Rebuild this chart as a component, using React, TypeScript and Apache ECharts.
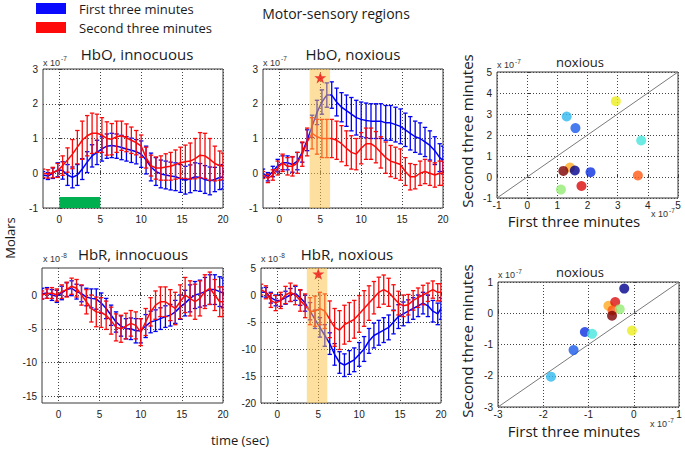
import React, { useEffect, useRef } from 'react';
import * as echarts from 'echarts';

// ---------- data ----------
const times = [-2, -1.4, -0.8, -0.2, 0.4, 1, 1.6, 2.2, 2.8, 3.4, 4, 4.6, 5.2, 5.8, 6.4, 7, 7.6, 8.2, 8.8, 9.4, 10, 10.6, 11.2, 11.8, 12.4, 13, 13.6, 14.2, 14.8, 15.4, 16, 16.6, 17.2, 17.8, 18.4, 19, 19.6, 20];

// HbO, innocuous (x 1e-7)
const hboInnFirst = [-0.05, -0.08, 0.0, 0.1, 0.08, -0.05, -0.12, -0.05, 0.12, 0.32, 0.5, 0.6, 0.7, 0.78, 0.8, 0.78, 0.74, 0.7, 0.66, 0.62, 0.55, 0.38, 0.18, 0.05, -0.02, -0.05, -0.08, -0.1, -0.15, -0.2, -0.16, -0.1, -0.12, -0.18, -0.22, -0.18, -0.12, -0.1];
const hboInnFirstErr = [0.1, 0.1, 0.15, 0.2, 0.25, 0.3, 0.3, 0.3, 0.3, 0.3, 0.32, 0.35, 0.35, 0.35, 0.35, 0.35, 0.35, 0.35, 0.35, 0.35, 0.38, 0.4, 0.4, 0.4, 0.4, 0.4, 0.4, 0.4, 0.4, 0.4, 0.4, 0.4, 0.4, 0.4, 0.4, 0.35, 0.35, 0.35];
const hboInnSecond = [0.0, -0.02, 0.02, 0.08, 0.22, 0.38, 0.55, 0.75, 0.95, 1.08, 1.15, 1.15, 1.1, 1.0, 0.98, 1.05, 1.08, 1.02, 0.95, 0.88, 0.78, 0.45, 0.22, 0.15, 0.15, 0.18, 0.2, 0.25, 0.3, 0.33, 0.35, 0.42, 0.52, 0.5, 0.4, 0.28, 0.22, 0.2];
const hboInnSecondErr = [0.12, 0.12, 0.15, 0.2, 0.28, 0.35, 0.42, 0.48, 0.55, 0.58, 0.58, 0.55, 0.5, 0.48, 0.45, 0.45, 0.42, 0.4, 0.38, 0.35, 0.32, 0.3, 0.3, 0.32, 0.35, 0.38, 0.4, 0.42, 0.45, 0.48, 0.52, 0.58, 0.65, 0.65, 0.6, 0.5, 0.42, 0.38];

// HbO, noxious (x 1e-7)
const hboNoxFirst = [0.0, -0.1, 0.05, 0.22, 0.3, 0.3, 0.25, 0.35, 0.6, 0.95, 1.35, 1.75, 2.05, 2.25, 2.25, 2.05, 1.9, 1.8, 1.7, 1.6, 1.55, 1.52, 1.5, 1.5, 1.5, 1.45, 1.45, 1.4, 1.35, 1.25, 1.15, 1.05, 1.0, 0.9, 0.8, 0.65, 0.45, 0.38];
const hboNoxFirstErr = [0.12, 0.12, 0.15, 0.18, 0.2, 0.2, 0.22, 0.25, 0.28, 0.3, 0.32, 0.35, 0.35, 0.35, 0.38, 0.4, 0.42, 0.45, 0.48, 0.5, 0.5, 0.5, 0.5, 0.5, 0.5, 0.5, 0.5, 0.5, 0.5, 0.48, 0.48, 0.45, 0.45, 0.42, 0.42, 0.4, 0.4, 0.4];
const hboNoxSecond = [-0.05, -0.15, -0.05, 0.15, 0.3, 0.2, 0.2, 0.3, 0.55, 0.9, 1.15, 1.05, 1.0, 1.0, 1.0, 0.95, 0.85, 0.72, 0.6, 0.55, 0.72, 0.85, 0.85, 0.75, 0.6, 0.45, 0.35, 0.3, 0.25, 0.05, -0.1, -0.1, 0.0, 0.05, 0.0, -0.05, 0.0, 0.0];
const hboNoxSecondErr = [0.1, 0.12, 0.15, 0.2, 0.25, 0.25, 0.28, 0.3, 0.35, 0.4, 0.45, 0.5, 0.55, 0.55, 0.55, 0.55, 0.52, 0.5, 0.48, 0.45, 0.45, 0.45, 0.45, 0.45, 0.45, 0.45, 0.45, 0.45, 0.45, 0.4, 0.38, 0.35, 0.35, 0.35, 0.35, 0.35, 0.35, 0.35];

// HbR, innocuous (x 1e-8)
const hbrInnFirst = [0.2, 0.3, 0.0, -0.2, 0.3, 0.8, 1.0, 0.5, 0.2, -0.3, -0.5, -0.6, -1.2, -2.0, -3.0, -4.0, -4.6, -5.0, -5.0, -5.3, -5.3, -4.6, -4.0, -3.8, -3.5, -3.2, -3.0, -2.5, -1.8, -1.2, -0.5, 0.0, 0.2, 0.5, 0.8, 0.8, 0.5, 0.3];
const hbrInnFirstErr = [0.8, 0.8, 0.8, 0.9, 1.0, 1.0, 1.1, 1.1, 1.2, 1.3, 1.4, 1.5, 1.5, 1.5, 1.5, 1.5, 1.5, 1.5, 1.6, 1.8, 1.8, 1.7, 1.6, 1.6, 1.6, 1.6, 1.6, 1.7, 1.8, 1.9, 2.0, 2.0, 2.0, 2.1, 2.2, 2.2, 2.2, 2.2];
const hbrInnSecond = [0.0, 0.2, 0.3, 0.0, 0.5, 0.8, 1.3, 1.0, 0.0, -1.0, -2.0, -2.5, -2.6, -3.0, -3.8, -4.8, -5.0, -4.6, -4.2, -4.5, -5.5, -4.0, -2.5, -1.5, -1.0, -1.0, -1.5, -2.0, -1.0, 0.0, -0.5, -1.0, -0.5, 0.5, 1.0, 0.0, -1.0, -1.0];
const hbrInnSecondErr = [0.6, 0.7, 0.8, 0.9, 1.0, 1.1, 1.2, 1.3, 1.5, 1.8, 2.0, 2.2, 2.2, 2.1, 2.0, 2.0, 2.0, 1.9, 1.9, 2.0, 2.0, 2.0, 2.1, 2.1, 2.2, 2.2, 2.3, 2.4, 2.5, 2.6, 2.6, 2.6, 2.6, 2.5, 2.4, 2.3, 2.2, 2.2];

// HbR, noxious (x 1e-8)
const hbrNoxFirst = [0.5, 0.5, -0.5, -1.0, -1.0, -0.5, 0.0, 0.3, -0.5, -1.5, -3.0, -4.5, -6.0, -7.5, -9.0, -11.0, -12.5, -13.0, -12.5, -12.0, -11.0, -10.0, -8.5, -7.5, -7.0, -6.5, -6.0, -5.0, -4.0, -3.5, -3.0, -2.5, -2.0, -1.5, -2.0, -3.0, -3.5, -2.5];
const hbrNoxFirstErr = [0.8, 0.9, 1.0, 1.0, 1.1, 1.2, 1.2, 1.3, 1.4, 1.5, 1.6, 1.7, 1.8, 2.0, 2.0, 2.0, 2.0, 2.1, 2.2, 2.2, 2.2, 2.3, 2.3, 2.3, 2.3, 2.3, 2.3, 2.2, 2.2, 2.2, 2.1, 2.0, 2.0, 2.0, 2.0, 2.0, 2.0, 2.0];
const hbrNoxSecond = [1.0, 0.5, -1.0, -1.5, -1.0, 0.0, 0.5, 0.0, -1.0, -2.0, -3.0, -3.0, -2.5, -3.0, -4.5, -6.0, -6.5, -5.5, -5.0, -4.5, -3.5, -2.5, -1.5, -0.5, 0.5, 1.0, 0.5, -0.5, -1.5, -2.0, -1.8, -1.0, -0.5, 0.0, 0.5, 1.0, 0.5, 0.5];
const hbrNoxSecondErr = [1.0, 1.2, 1.3, 1.4, 1.5, 1.6, 1.7, 1.8, 2.0, 2.2, 2.5, 2.8, 3.0, 3.2, 3.4, 3.5, 3.6, 3.6, 3.6, 3.5, 3.4, 3.3, 3.2, 3.0, 2.8, 2.7, 2.6, 2.4, 2.2, 2.0, 1.9, 1.8, 1.8, 1.8, 1.7, 1.6, 1.6, 1.6];

// stimulus interval / highlighted windows / star markers
const stimInterval = [0, 5];
const hboNoxWindow = [3.7, 6.2];
const hbrNoxWindow = [3.6, 6.1];
const hboStar = [5, 2.75];
const hbrStar = [5, 3.9];

// scatter: HbO noxious (x 1e-7)
const hboScatterFirst = [1.31, 1.6, 2.94, 3.78, 3.67, 1.42, 1.2, 1.58, 2.1, 1.8, 1.12];
const hboScatterSecond = [2.88, 2.33, 3.61, 1.74, 0.07, 0.45, 0.29, 0.31, 0.23, -0.43, -0.6];
const hboScatterColors = ['#2fb9ef', '#1a5ae8', '#ecec1e', '#46e6dc', '#ff5a14', '#ffaa22', '#7d0000', '#00008c', '#0a2fe0', '#dc0a0a', '#96ec74'];
const hboDiag = [[-1, -1], [5, 5]];

// scatter: HbR noxious (x 1e-7)
const hbrScatterFirst = [-0.21, -0.56, -0.41, -0.47, -0.31, -0.48, -0.04, -1.08, -0.92, -1.33, -1.83];
const hbrScatterSecond = [0.79, 0.24, 0.36, 0.09, 0.13, -0.08, -0.555, -0.6, -0.66, -1.18, -2.03];
const hbrScatterColors = ['#00008c', '#ffaa22', '#dc1010', '#ff5a14', '#96ec74', '#7d0000', '#ecec1e', '#0a2fe0', '#46e6dc', '#1a5ae8', '#2fb9ef'];
const hbrDiag = [[-3, -3], [1, 1]];

const timeTicks = [0, 5, 10, 15, 20];
const hbrInnTicks = [-15, -10, -5, 0];

// ---------- styles ----------
const BLUE = '#0000f2';
const RED = '#fa0a0a';
const FRAME = '#3a3a3a';
const SANS = '"Open Sans", "Noto Sans", sans-serif';
const TICKFONT = '"Liberation Sans", Arial, sans-serif';

const STAR = 'path://M0,-10 L2.35,-3.24 L9.51,-3.09 L3.8,1.24 L5.88,8.09 L0,4 L-5.88,8.09 L-3.8,1.24 L-9.51,-3.09 L-2.35,-3.24 Z';

function errData(mean: number[], err: number[]) {
  return times.map((t, i) => [t, mean[i] - err[i], mean[i] + err[i]]);
}
function lineData(mean: number[]) {
  return times.map((t, i) => [t, mean[i]]);
}

function errSeries(gi: number, mean: number[], err: number[], color: string, z: number) {
  return {
    type: 'custom',
    xAxisIndex: gi,
    yAxisIndex: gi,
    z,
    silent: true,
    clip: true,
    data: errData(mean, err),
    renderItem: (params: any, api: any) => {
      const x = api.value(0);
      const lo = api.coord([x, api.value(1)]);
      const hi = api.coord([x, api.value(2)]);
      const w = 2.2;
      const st = { stroke: color, lineWidth: 1.3 };
      return {
        type: 'group',
        children: [
          { type: 'line', shape: { x1: lo[0], y1: lo[1], x2: hi[0], y2: hi[1] }, style: st },
          { type: 'line', shape: { x1: lo[0] - w, y1: lo[1], x2: lo[0] + w, y2: lo[1] }, style: st },
          { type: 'line', shape: { x1: hi[0] - w, y1: hi[1], x2: hi[0] + w, y2: hi[1] }, style: st },
        ],
      };
    },
  };
}

function meanSeries(gi: number, mean: number[], color: string, z: number) {
  return {
    type: 'line',
    xAxisIndex: gi,
    yAxisIndex: gi,
    z,
    silent: true,
    showSymbol: false,
    smooth: false,
    data: lineData(mean),
    lineStyle: { color, width: 1.5 },
  };
}

function rectSeries(gi: number, x0: number, x1: number, y0: number, y1: number, color: string, opacity: number, z: number) {
  return {
    type: 'custom',
    xAxisIndex: gi,
    yAxisIndex: gi,
    z,
    silent: true,
    data: [[x0, x1, y0, y1]],
    renderItem: (params: any, api: any) => {
      const a = api.coord([api.value(0), api.value(3)]);
      const b = api.coord([api.value(1), api.value(2)]);
      return {
        type: 'rect',
        shape: { x: a[0], y: a[1], width: b[0] - a[0], height: b[1] - a[1] },
        style: { fill: color, opacity },
      };
    },
  };
}

function starSeries(gi: number, pt: number[]) {
  return {
    type: 'scatter',
    xAxisIndex: gi,
    yAxisIndex: gi,
    z: 20,
    silent: true,
    symbol: STAR,
    symbolSize: 12,
    symbolKeepAspect: true,
    itemStyle: { color: '#ee1111' },
    data: [pt],
  };
}

const splitLine = { show: true, lineStyle: { color: '#444', type: [1, 2], width: 1 } };
const tickLabel = { fontSize: 10, color: '#222', fontFamily: TICKFONT };

function valueAxis(gi: number, min: number, max: number, interval: number | null, custom: number[] | null, margin: number) {
  const ax: any = {
    type: 'value',
    gridIndex: gi,
    min,
    max,
    axisLine: { show: false },
    axisTick: { show: true, inside: true, length: 3, lineStyle: { color: FRAME } },
    axisLabel: { ...tickLabel, margin },
    splitLine,
  };
  if (interval !== null) ax.interval = interval;
  if (custom) {
    ax.axisTick.customValues = custom;
    ax.axisLabel.customValues = custom;
  }
  return ax;
}

function txt(x: number, y: number, text: string, size: number, opts: any = {}) {
  return {
    type: 'text',
    x,
    y,
    rotation: opts.rotation || 0,
    silent: true,
    style: {
      text,
      fontSize: size,
      fontFamily: opts.family || SANS,
      fill: opts.color || '#1a1a1a',
      align: opts.align || 'center',
      verticalAlign: 'middle',
    },
  };
}

function expLabel(x: number, y: number, exp: string) {
  return [
    txt(x, y, 'x 10', 9, { align: 'left', family: TICKFONT, color: '#333' }),
    txt(x + 18, y - 4, exp, 6.5, { align: 'left', family: TICKFONT, color: '#333' }),
  ];
}

function buildOption() {
  const gridBase = { show: true, borderColor: FRAME, borderWidth: 1, backgroundColor: 'transparent', containLabel: false, outerBoundsMode: 'none' };
  const grid = [
    { left: 43, top: 69, width: 180, height: 139 },
    { left: 263, top: 69, width: 180, height: 139 },
    { left: 42, top: 268, width: 181, height: 135 },
    { left: 261, top: 268, width: 180, height: 135 },
    { left: 497, top: 72, width: 181, height: 126 },
    { left: 498, top: 282, width: 181, height: 125 },
  ].map((g) => ({ ...gridBase, ...g }));

  const xAxis = [
    valueAxis(0, -2, 20, null, timeTicks, 6),
    valueAxis(1, -2, 20, null, timeTicks, 6),
    valueAxis(2, -2, 20, null, timeTicks, 6),
    valueAxis(3, -2, 20, null, timeTicks, 6),
    valueAxis(4, -1, 5, 1, null, 2),
    valueAxis(5, -3, 1, 1, null, 2),
  ];
  const yAxis = [
    valueAxis(0, -1, 3, 1, null, 5),
    valueAxis(1, -1, 3, 1, null, 5),
    valueAxis(2, -16, 4, null, hbrInnTicks, 5),
    valueAxis(3, -20, 5, 5, null, 5),
    valueAxis(4, -1, 5, 1, null, 5),
    valueAxis(5, -3, 1, 1, null, 5),
  ];

  const scatterPts = (xs: number[], ys: number[], cols: string[]) =>
    xs.map((x, i) => ({ value: [x, ys[i]], itemStyle: { color: cols[i] } }));

  const series: any[] = [
    // panel 0: HbO innocuous
    errSeries(0, hboInnFirst, hboInnFirstErr, BLUE, 2),
    meanSeries(0, hboInnFirst, BLUE, 3),
    errSeries(0, hboInnSecond, hboInnSecondErr, RED, 4),
    meanSeries(0, hboInnSecond, RED, 5),
    rectSeries(0, stimInterval[0], stimInterval[1], -1, -0.68, '#00b050', 1, 6),
    // panel 1: HbO noxious
    errSeries(1, hboNoxFirst, hboNoxFirstErr, BLUE, 2),
    meanSeries(1, hboNoxFirst, BLUE, 3),
    errSeries(1, hboNoxSecond, hboNoxSecondErr, RED, 4),
    meanSeries(1, hboNoxSecond, RED, 5),
    rectSeries(1, hboNoxWindow[0], hboNoxWindow[1], -1, 3, '#fbc241', 0.5, 10),
    starSeries(1, hboStar),
    // panel 2: HbR innocuous
    errSeries(2, hbrInnFirst, hbrInnFirstErr, BLUE, 2),
    meanSeries(2, hbrInnFirst, BLUE, 3),
    errSeries(2, hbrInnSecond, hbrInnSecondErr, RED, 4),
    meanSeries(2, hbrInnSecond, RED, 5),
    // panel 3: HbR noxious
    errSeries(3, hbrNoxFirst, hbrNoxFirstErr, BLUE, 2),
    meanSeries(3, hbrNoxFirst, BLUE, 3),
    errSeries(3, hbrNoxSecond, hbrNoxSecondErr, RED, 4),
    meanSeries(3, hbrNoxSecond, RED, 5),
    rectSeries(3, hbrNoxWindow[0], hbrNoxWindow[1], -20, 5, '#fbc241', 0.5, 10),
    starSeries(3, hbrStar),
    // scatter top
    {
      type: 'line', xAxisIndex: 4, yAxisIndex: 4, z: 2, silent: true, showSymbol: false,
      data: hboDiag, lineStyle: { color: '#7a7a7a', width: 1 },
    },
    {
      type: 'scatter', xAxisIndex: 4, yAxisIndex: 4, z: 3, silent: true, symbolSize: 10,
      data: scatterPts(hboScatterFirst, hboScatterSecond, hboScatterColors),
    },
    // scatter bottom
    {
      type: 'line', xAxisIndex: 5, yAxisIndex: 5, z: 2, silent: true, showSymbol: false,
      data: hbrDiag, lineStyle: { color: '#7a7a7a', width: 1 },
    },
    {
      type: 'scatter', xAxisIndex: 5, yAxisIndex: 5, z: 3, silent: true, symbolSize: 10,
      data: scatterPts(hbrScatterFirst, hbrScatterSecond, hbrScatterColors),
    },
  ];

  const graphic: any[] = [
    { type: 'rect', silent: true, shape: { x: 36, y: 3, width: 30, height: 11 }, style: { fill: '#0a0aff' } },
    { type: 'rect', silent: true, shape: { x: 36, y: 22, width: 30, height: 11 }, style: { fill: '#ff0a0a' } },
    txt(79, 8.5, 'First three minutes', 13, { align: 'left' }),
    txt(79, 27.5, 'Second three minutes', 13, { align: 'left' }),
    txt(336, 13, 'Motor-sensory regions', 14),
    txt(137, 54, 'HbO, innocuous', 15),
    txt(353, 54, 'HbO, noxious', 15),
    txt(133, 254, 'HbR, innocuous', 15),
    txt(347, 254, 'HbR, noxious', 15),
    txt(580, 62, 'noxious', 13),
    txt(580, 272, 'noxious', 13),
    txt(467, 131, 'Second three minutes', 15, { rotation: Math.PI / 2 }),
    txt(467, 341, 'Second three minutes', 15, { rotation: Math.PI / 2 }),
    txt(574, 221, 'First three minutes', 15),
    txt(574, 431, 'First three minutes', 15),
    txt(10, 238, 'Molars', 13, { rotation: Math.PI / 2 }),
    txt(240, 440, 'time (sec)', 13),
    ...expLabel(43, 62.5, '-7'),
    ...expLabel(263, 62.5, '-7'),
    ...expLabel(43, 259, '-8'),
    ...expLabel(261, 259, '-8'),
    ...expLabel(497, 65, '-7'),
    ...expLabel(651, 214, '-7'),
    ...expLabel(498, 275, '-7'),
    ...expLabel(650, 424, '-7'),
  ];

  return {
    animation: false,
    backgroundColor: '#ffffff',
    grid,
    xAxis,
    yAxis,
    series,
    graphic,
  };
}

export default function App() {
  const ref = useRef<HTMLDivElement>(null);
  useEffect(() => {
    if (!ref.current) return;
    const chart = echarts.init(ref.current, null, { renderer: 'svg' });
    chart.setOption(buildOption() as any);
    return () => chart.dispose();
  }, []);
  return (
    <div
      ref={ref}
      style={{ position: 'absolute', left: 0, top: 0, width: 685, height: 452, background: '#fff' }}
    />
  );
}
